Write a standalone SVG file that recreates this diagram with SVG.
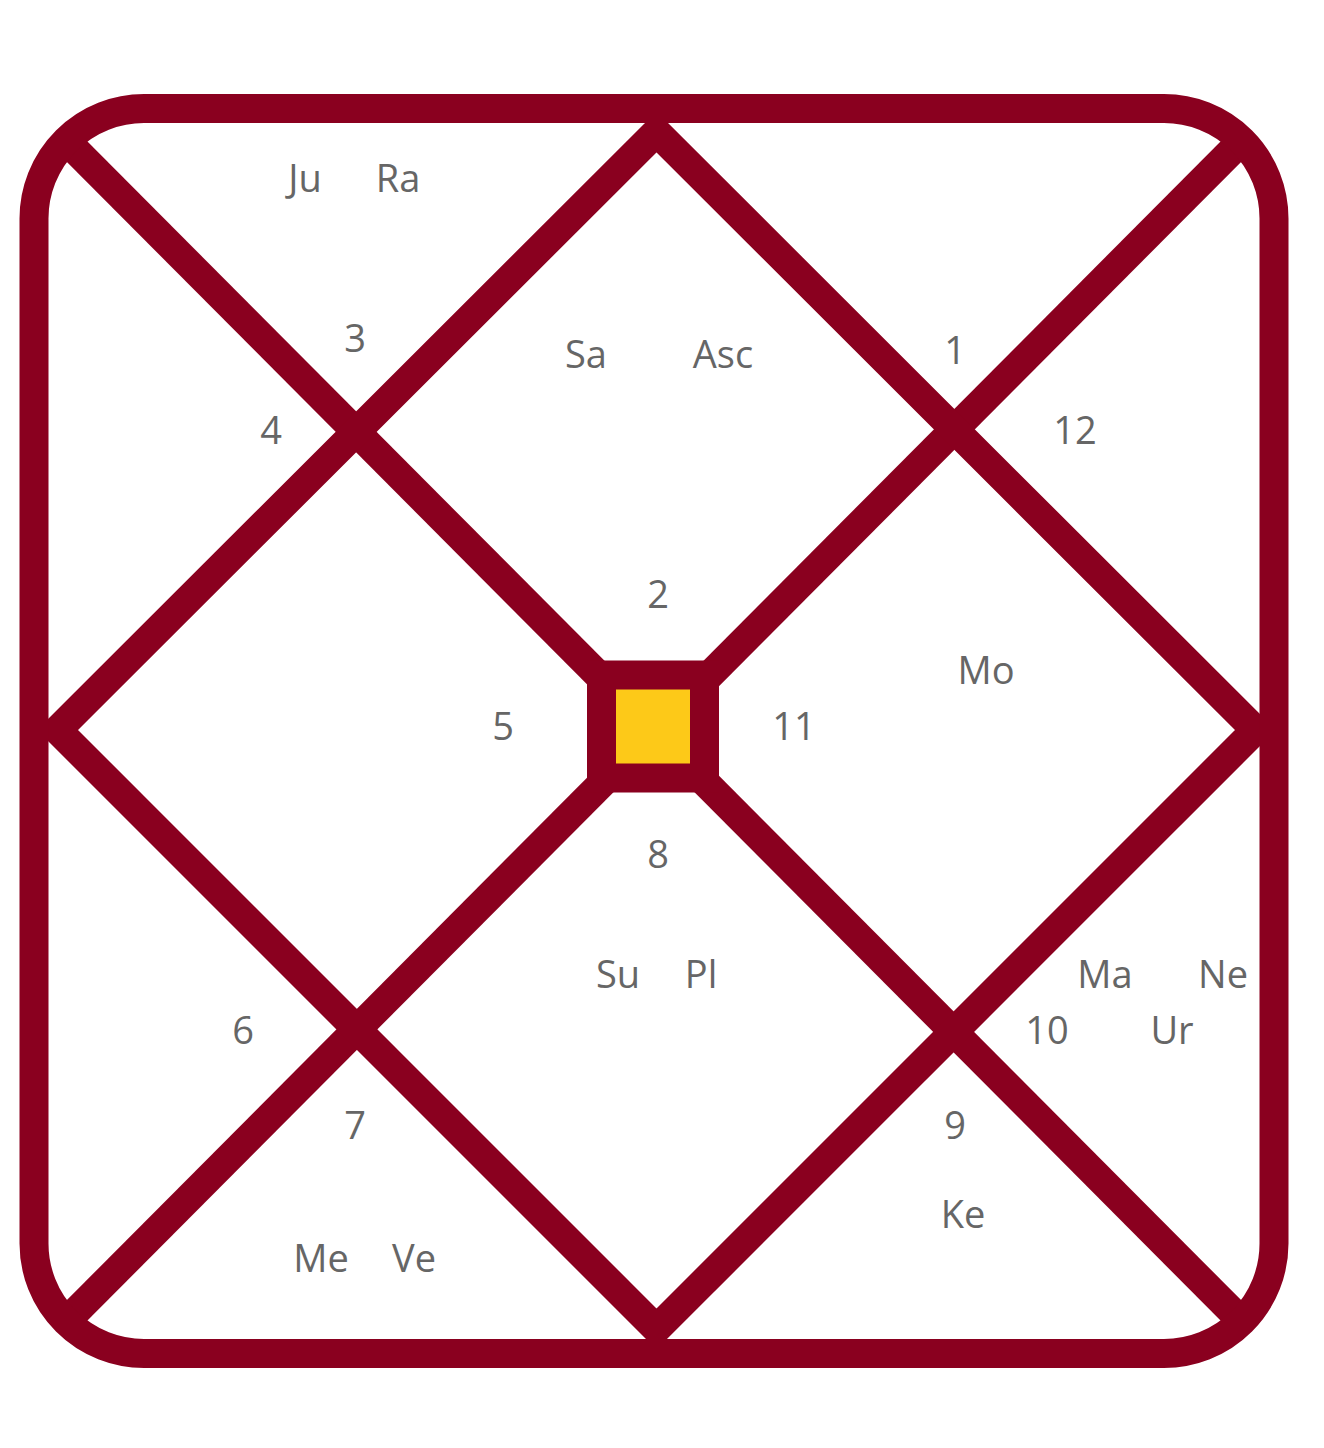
<svg xmlns="http://www.w3.org/2000/svg" width="1324" height="1448" viewBox="0 0 1324 1448">
<style>
.ln{stroke:#8A001F;stroke-width:29;fill:none;stroke-linecap:butt;stroke-linejoin:miter}
.t{font-family:"Open Sans","Noto Sans","Liberation Sans",sans-serif;font-size:38px;fill:#666666;text-anchor:middle}
</style>
<rect width="1324" height="1448" fill="#ffffff"/>
<g id="connectors">
<line class="ln" x1="66.2" y1="140.7" x2="1241.8" y2="1321.3"/>
<line class="ln" x1="1241.8" y1="140.7" x2="66.2" y2="1321.3"/>
<polygon class="ln" points="656.5,132 57.5,730 656.5,1329 1255.5,730"/>
<rect id="frame" class="ln" x="34" y="108.5" width="1240" height="1245" rx="110" ry="110"/>
</g>
<g id="center"><rect x="601.5" y="675" width="103" height="103" fill="#FDC918" stroke="#8A001F" stroke-width="29"/></g>
<g id="labels">
<text class="t" x="305" y="192">Ju</text>
<text class="t" x="398" y="192">Ra</text>
<text class="t" x="355" y="352">3</text>
<text class="t" x="271" y="444">4</text>
<text class="t" x="586" y="368">Sa</text>
<text class="t" x="723" y="368">Asc</text>
<text class="t" x="955" y="364">1</text>
<text class="t" x="1075" y="444">12</text>
<text class="t" x="658" y="608">2</text>
<text class="t" x="986" y="684">Mo</text>
<text class="t" x="503" y="740">5</text>
<text class="t" x="794" y="740">11</text>
<text class="t" x="658" y="868">8</text>
<text class="t" x="618" y="988">Su</text>
<text class="t" x="701" y="988">Pl</text>
<text class="t" x="1105" y="988">Ma</text>
<text class="t" x="1223" y="988">Ne</text>
<text class="t" x="1047" y="1044">10</text>
<text class="t" x="1172" y="1044">Ur</text>
<text class="t" x="243" y="1044">6</text>
<text class="t" x="355" y="1139">7</text>
<text class="t" x="955" y="1139">9</text>
<text class="t" x="963" y="1228">Ke</text>
<text class="t" x="321" y="1272">Me</text>
<text class="t" x="414" y="1272">Ve</text>
</g>
</svg>
